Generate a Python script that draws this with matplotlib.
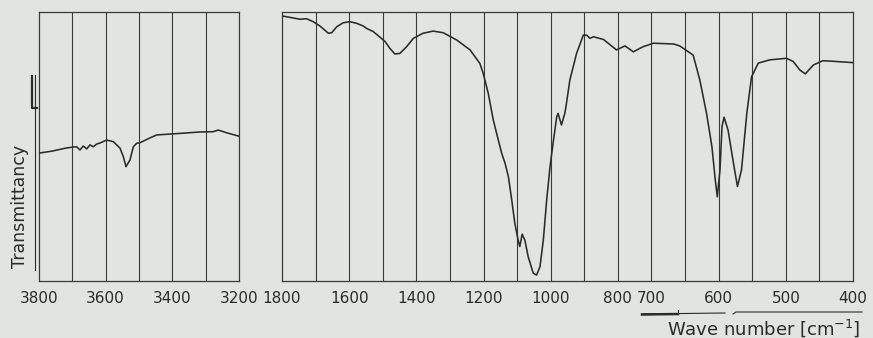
import numpy as np
import matplotlib
matplotlib.use("Agg")
import matplotlib.pyplot as plt
from matplotlib.ticker import FixedLocator
from matplotlib.lines import Line2D

# ---------------- data ----------------
# high-wavenumber panel (3800-3200 cm-1)
wn_hi = [3797, 3760, 3720, 3698, 3687, 3677, 3667, 3657, 3647, 3637, 3627, 3617,
         3597, 3577, 3557, 3547, 3539, 3527, 3517, 3507, 3497, 3467, 3447, 3397,
         3317, 3278, 3262, 3237, 3202]
tr_hi = [47.6, 48.3, 49.4, 49.8, 49.9, 48.7, 50.2, 49.1, 50.6, 49.9, 50.9, 51.3,
         52.4, 51.8, 49.4, 46.2, 42.5, 45.0, 49.9, 51.2, 51.4, 53.2, 54.3, 54.7,
         55.4, 55.5, 56.1, 55.1, 53.9]

# low-wavenumber panel (1800-400 cm-1)
wn_lo = [1798, 1776, 1746, 1727, 1707, 1687, 1662, 1652, 1637, 1618, 1598, 1578,
         1558, 1548, 1528, 1508, 1493, 1479, 1464, 1449, 1429, 1409, 1380, 1350,
         1320, 1280, 1240, 1211, 1201, 1186, 1171, 1156, 1146, 1136, 1126, 1116,
         1107, 1097, 1092, 1085, 1077, 1067, 1052, 1042, 1032, 1022, 1012, 1002,
         993, 982, 978, 968, 958, 953, 943, 923, 903, 893, 883, 873, 843, 804,
         779, 754, 725, 697, 667, 658, 638, 628, 618, 610, 605, 602, 598, 595,
         592, 586, 578, 572, 566, 558, 551, 541, 524, 499, 489, 479, 471, 459,
         445, 425, 401]
tr_lo = [98.5, 98.0, 97.3, 97.5, 96.4, 94.8, 92.1, 92.3, 94.5, 96.0, 96.4, 95.8,
         94.8, 93.9, 92.7, 90.6, 89.0, 86.5, 84.4, 84.6, 87.1, 90.2, 92.1, 92.9,
         92.3, 89.6, 85.9, 80.9, 77.2, 69.8, 59.9, 52.4, 47.5, 43.8, 38.8, 30.1,
         21.6, 15.2, 12.8, 17.4, 15.2, 9.0, 2.9, 2.2, 5.3, 15.2, 30.1, 42.5,
         51.2, 61.1, 62.3, 58.0, 62.3, 66.1, 74.7, 84.6, 91.4, 91.4, 90.2, 90.8,
         89.8, 85.9, 87.4, 85.2, 87.1, 88.4, 88.1, 87.4, 84.0, 74.7, 62.3, 49.9,
         37.5, 31.3, 41.3, 57.4, 60.9, 56.1, 43.9, 35.1, 41.3, 62.5, 75.9, 81.0,
         82.2, 82.8, 81.6, 78.4, 77.0, 80.3, 81.9, 81.6, 81.2]

grid_hi = [3700, 3600, 3500, 3400, 3300]
labels_hi = [3800, 3600, 3400, 3200]
grid_lo = [1700, 1600, 1500, 1400, 1300, 1200, 1100, 1000, 900, 800, 700,
           650, 600, 550, 500, 450]
labels_lo = [1800, 1600, 1400, 1200, 1000, 800, 700, 600, 500, 400]

# ---------------- style ----------------
BG = "#e2e4e1"
INK = "#2b2b2b"
GRID = "#3a3a3a"

fig = plt.figure(figsize=(8.73, 3.38), dpi=100, facecolor=BG)
W, H = 873.0, 338.0

def box(x0, x1, y0, y1):
    return [x0 / W, 1 - y1 / H, (x1 - x0) / W, (y1 - y0) / H]

ax1 = fig.add_axes(box(39, 239, 12, 281))
ax2 = fig.add_axes(box(282, 853, 12, 281))

# chart paper changes scale at 700 cm-1 (100 per division above, 50 below)
def fwd(w):
    w = np.asarray(w, dtype=float)
    return np.where(w >= 700, 6.0 + (w - 700.0) / 100.0, (w - 400.0) / 50.0)

def inv(q):
    q = np.asarray(q, dtype=float)
    return np.where(q >= 6, 700.0 + 100.0 * (q - 6.0), 400.0 + 50.0 * q)

ax2.set_xscale("function", functions=(fwd, inv))

for ax, wn, tr, xl, grid, labels in (
        (ax1, wn_hi, tr_hi, (3800, 3200), grid_hi, labels_hi),
        (ax2, wn_lo, tr_lo, (1800, 400), grid_lo, labels_lo)):
    ax.set_facecolor(BG)
    ax.plot(wn, tr, color=INK, lw=1.15, solid_joinstyle="round", zorder=3)
    ax.set_xlim(*xl)
    ax.set_ylim(0, 100)
    for g in grid:
        ax.axvline(g, color=GRID, lw=0.8, zorder=2)
    ax.xaxis.set_major_locator(FixedLocator(labels))
    ax.xaxis.set_minor_locator(FixedLocator([]))
    ax.set_xticklabels([str(v) for v in labels])
    ax.set_yticks([])
    ax.tick_params(axis="x", length=0, pad=7, labelsize=11, colors=INK)
    for s in ax.spines.values():
        s.set_color(GRID)
        s.set_linewidth(0.9)

# y-axis label with its bracket line
fig.text(20 / W, 1 - 206 / H, "Transmittancy", rotation=90, ha="center",
         va="center", fontsize=12.5, color=INK)
fig.add_artist(Line2D([35 / W, 35 / W], [1 - 75 / H, 1 - 270 / H],
                      transform=fig.transFigure, color=INK, lw=0.8))
fig.add_artist(Line2D([32 / W, 32 / W, 37 / W], [1 - 76 / H, 1 - 108 / H, 1 - 108 / H],
                      transform=fig.transFigure, color=INK, lw=1.6))

# x-axis label with arrow lines
fig.text(764 / W, 1 - 328 / H, "Wave number [cm$^{-1}$]", ha="center",
         va="center", fontsize=13, color=INK)
fig.add_artist(Line2D([642 / W, 725 / W], [1 - 314 / H, 1 - 313 / H],
                      transform=fig.transFigure, color=INK, lw=0.8))
fig.add_artist(Line2D([642 / W, 678 / W], [1 - 314.5 / H, 1 - 314 / H],
                      transform=fig.transFigure, color=INK, lw=1.8))
fig.add_artist(Line2D([678 / W, 678 / W], [1 - 310 / H, 1 - 314 / H],
                      transform=fig.transFigure, color=INK, lw=0.8))
fig.add_artist(Line2D([733 / W, 736 / W, 862 / W], [1 - 314 / H, 1 - 312 / H, 1 - 312 / H],
                      transform=fig.transFigure, color=INK, lw=0.8))

fig.savefig("out.png", dpi=100, facecolor=BG)
